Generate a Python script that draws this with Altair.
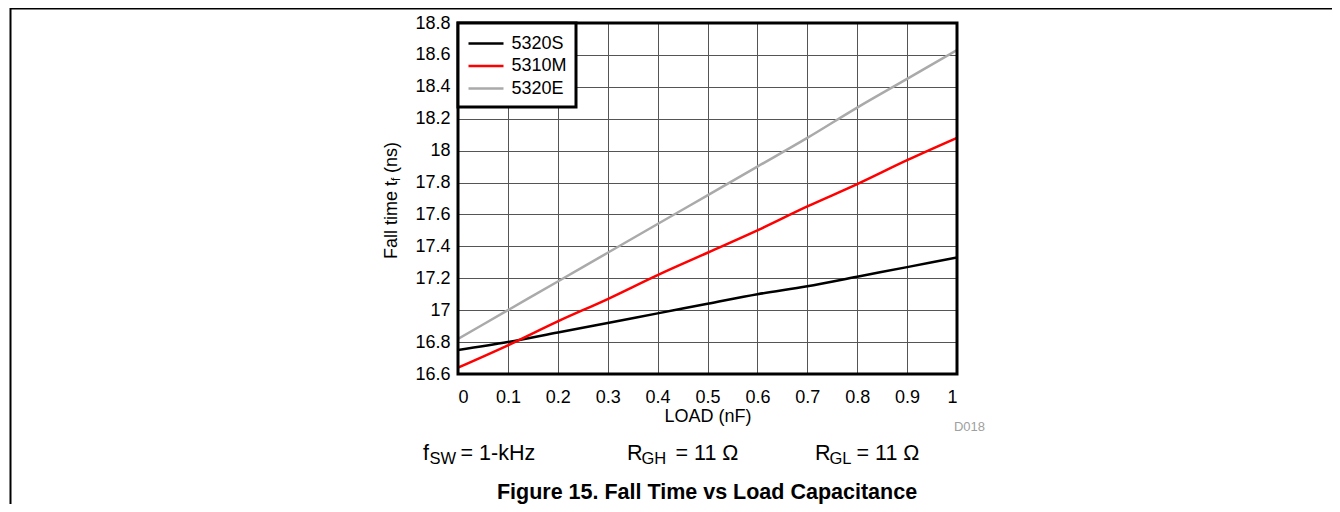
import altair as alt
import pandas as pd

# ---- data ----
load_nf = [0.0, 0.1, 0.2, 0.3, 0.4, 0.5, 0.6, 0.7, 0.8, 0.9, 1.0]
fall_5320S = [16.75, 16.80, 16.86, 16.92, 16.98, 17.04, 17.10, 17.15, 17.21, 17.27, 17.33]
fall_5310M = [16.64, 16.78, 16.93, 17.07, 17.22, 17.36, 17.50, 17.65, 17.79, 17.94, 18.08]
fall_5320E = [16.82, 17.00, 17.18, 17.36, 17.54, 17.72, 17.90, 18.08, 18.27, 18.45, 18.63]
series_names = ["5320S", "5310M", "5320E"]
series_colors = ["#000000", "#ff0000", "#aaaaaa"]
y_ticks = [16.6, 16.8, 17.0, 17.2, 17.4, 17.6, 17.8, 18.0, 18.2, 18.4, 18.6, 18.8]
x_ticks = [0.0, 0.1, 0.2, 0.3, 0.4, 0.5, 0.6, 0.7, 0.8, 0.9, 1.0]
x_title = "LOAD (nF)"
y_title_parts = ["Fall time t", "f", "(ns)"]
cond_parts = [("f", "SW", "= 1-kHz"), ("R", "GH", "= 11 Ω"), ("R", "GL", "= 11 Ω")]
fig_title = "Figure 15. Fall Time vs Load Capacitance"
fig_code = "D018"

FONT = "Liberation Sans"
W, H = 499, 351
OX, OY = 458, 23  # page position of plot origin

rows = []
for name, vals in zip(series_names, [fall_5320S, fall_5310M, fall_5320E]):
    for x, y in zip(load_nf, vals):
        rows.append({"load": x, "tf": y, "series": name})
df = pd.DataFrame(rows)

lines = alt.Chart(df).mark_line(strokeWidth=2.5, clip=True, interpolate="monotone").encode(
    x=alt.X("load:Q", scale=alt.Scale(domain=[0, 1], nice=False),
            axis=alt.Axis(values=x_ticks, format="~g", title=x_title, labelPadding=14,
                          titlePadding=1)),
    y=alt.Y("tf:Q", scale=alt.Scale(domain=[16.6, 18.8], nice=False, zero=False),
            axis=alt.Axis(values=y_ticks, format="~g", title=None, labelPadding=8)),
    color=alt.Color("series:N",
                    scale=alt.Scale(domain=series_names, range=series_colors),
                    sort=series_names, legend=alt.Legend(title=None)),
)

one = pd.DataFrame({"k": [0]})

border = alt.Chart(one).mark_rect(filled=False, stroke="black", strokeWidth=3).encode(
    x=alt.value(0), x2=alt.value(W), y=alt.value(0), y2=alt.value(H)
)


def txt(text, px, py, size, **kw):
    return alt.Chart(pd.DataFrame({"t": [text]})).mark_text(
        font=FONT, fontSize=size, **kw
    ).encode(text="t:N", x=alt.value(px - OX), y=alt.value(py - OY))


layers = [lines, border]

# y title with subscript (rotated)
layers.append(txt(y_title_parts[0], 392, 259, 18, angle=270, align="left", baseline="middle", color="black"))
layers.append(txt(y_title_parts[1], 396, 181, 12, angle=270, align="left", baseline="middle", color="black"))
layers.append(txt(y_title_parts[2], 392, 173, 18, angle=270, align="left", baseline="middle", color="black"))

# conditions line
starts = [(423, 429.5, 460.5), (627, 641.5, 675.5), (815, 829.5, 856.5)]
for (a, b, c), (xa, xb, xc) in zip(cond_parts, starts):
    layers.append(txt(a, xa, 460, 21.5, align="left", baseline="alphabetic", color="black"))
    layers.append(txt(b, xb, 464, 16.5, align="left", baseline="alphabetic", color="black"))
    layers.append(txt(c, xc, 460, 21.5, align="left", baseline="alphabetic", color="black"))

layers.append(txt(fig_title, 707, 499, 21.5, align="center", baseline="alphabetic",
                  fontWeight="bold", color="black"))
layers.append(txt(fig_code, 985, 431, 13, align="right", baseline="alphabetic", color="#a0a0a0"))

# page frame lines
frame_top = alt.Chart(one).mark_rule(color="black", strokeWidth=2).encode(
    x=alt.value(10 - OX), x2=alt.value(1340 - OX), y=alt.value(8.5 - OY))
frame_left = alt.Chart(one).mark_rule(color="black", strokeWidth=2).encode(
    x=alt.value(10.5 - OX), y=alt.value(8 - OY), y2=alt.value(512 - OY))
layers += [frame_top, frame_left]

chart = alt.layer(*layers).properties(
    width=W, height=H,
    autosize=alt.AutoSizeParams(type="none"),
    padding={"left": OX - 8, "top": OY - 8, "right": 1332 - (OX + W), "bottom": 504 - (OY + H)},
).configure_view(stroke=None).configure_axis(
    grid=True, gridColor="#555555", gridWidth=1, domain=False, ticks=False,
    labelFont=FONT, labelFontSize=18, labelColor="black",
    titleFont=FONT, titleFontSize=18, titleColor="black", titleFontWeight="normal",
).configure_legend(
    orient="top-left", offset=0, fillColor="white", strokeColor="black", strokeWidth=3,
    padding=9, labelFont=FONT, labelFontSize=18, labelColor="black",
    symbolType="M-1.75,0H1.75", symbolSize=400, symbolStrokeWidth=2.5,
    symbolOffset=7.5, labelOffset=14, rowPadding=1.5,
)

chart.save("out.html", embed_options={"renderer": "svg", "actions": False})
